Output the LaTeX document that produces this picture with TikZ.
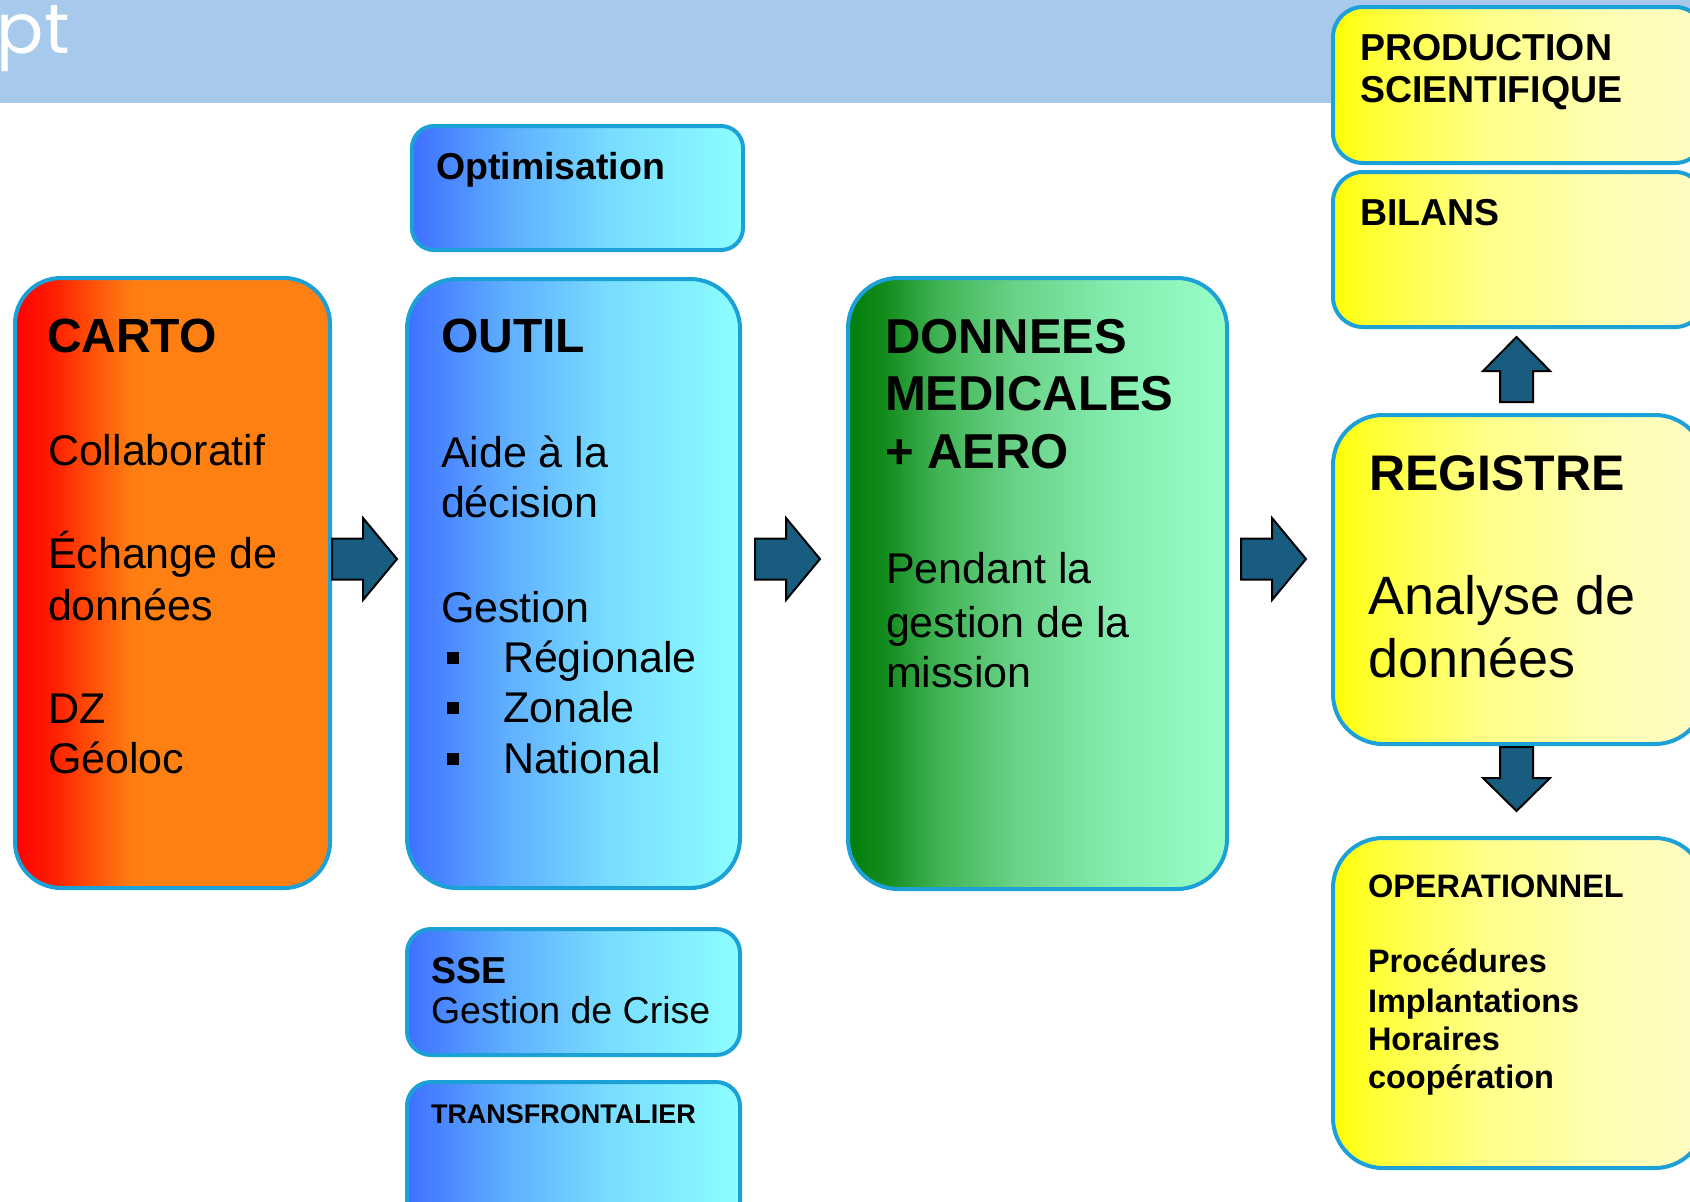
\documentclass[tikz,border=0pt]{standalone}
\usepackage{fontspec}
\setmainfont{Liberation Sans}
\newfontfamily\poppfont{Poppins}
\definecolor{bandblue}{RGB}{167,201,235}
\definecolor{edgeblue}{RGB}{27,160,215}
\definecolor{arrowblue}{RGB}{24,93,128}
% carto
\definecolor{cA}{RGB}{255,0,0}
\definecolor{cB}{RGB}{255,26,0}
\definecolor{cC}{RGB}{255,90,10}
\definecolor{cD}{RGB}{255,125,18}
\definecolor{cE}{RGB}{255,128,18}
% blue
\definecolor{bA}{RGB}{62,112,255}
\definecolor{bB}{RGB}{95,175,255}
\definecolor{bC}{RGB}{120,220,255}
\definecolor{bD}{RGB}{140,255,255}
% green
\definecolor{gA}{RGB}{0,125,10}
\definecolor{gB}{RGB}{20,140,30}
\definecolor{gC}{RGB}{65,180,85}
\definecolor{gF}{RGB}{105,210,135}
\definecolor{gD}{RGB}{132,236,175}
\definecolor{gE}{RGB}{152,255,200}
% yellow
\definecolor{yA}{RGB}{255,255,0}
\definecolor{yB}{RGB}{255,255,50}
\definecolor{yC}{RGB}{255,255,135}
\definecolor{yD}{RGB}{255,254,175}
\definecolor{yE}{RGB}{255,252,196}
\pgfdeclarehorizontalshading{cartoshade}{100bp}{color(0bp)=(cA); color(25bp)=(cA); color(30.5bp)=(cB); color(38.5bp)=(cC); color(43.5bp)=(cD); color(46bp)=(cE); color(100bp)=(cE)}
\pgfdeclarehorizontalshading{blueshade}{100bp}{color(0bp)=(bA); color(25bp)=(bA); color(40bp)=(bB); color(55bp)=(bC); color(75bp)=(bD); color(100bp)=(bD)}
\pgfdeclarehorizontalshading{greenshade}{100bp}{color(0bp)=(gA); color(25bp)=(gA); color(30bp)=(gB); color(37bp)=(gC); color(47bp)=(gF); color(60bp)=(gD); color(75bp)=(gE); color(100bp)=(gE)}
\pgfdeclarehorizontalshading{yellowshade}{100bp}{color(0bp)=(yA); color(25bp)=(yA); color(30bp)=(yB); color(45bp)=(yC); color(60bp)=(yD); color(75bp)=(yE); color(100bp)=(yE)}
\begin{document}
\begin{tikzpicture}[x=1pt,y=-1pt,
  box/.style={draw=edgeblue, line width=4pt, shade, anchor=north west, inner sep=0pt, outer sep=0pt},
  txt/.style={anchor=base west, inner sep=0pt, outer sep=0pt, text=black},
  tbig/.style={txt, font=\fontsize{48}{57}\selectfont\bfseries},
  tbody/.style={txt, font=\fontsize{43}{51}\selectfont},
  tmid/.style={txt, font=\fontsize{37.5}{44}\selectfont\bfseries},
  topstyle/.style={txt, font=\fontsize{32.5}{39}\selectfont\bfseries},
  tdon/.style={txt, font=\fontsize{49}{58}\selectfont\bfseries},
  blockarrow/.style={fill=arrowblue, draw=black, line width=2pt, line join=miter},
  bulletsq/.style={fill=black, inner sep=0pt, minimum size=12pt, draw=none}
]
\useasboundingbox (0,0) rectangle (1690,1202);
\clip (0,0) rectangle (1690,1202);
\fill[white] (0,0) rectangle (1690,1202);
% header band
\node[fill=bandblue, anchor=north west, inner sep=0pt, minimum width=1690pt, minimum height=103pt] (band) at (0,0) {};
\node[txt, text=white, font=\poppfont\fontsize{70}{80}\selectfont] (pt) at (-3,53) {pt};

% boxes
\node[box, shading=cartoshade, rounded corners=46pt, minimum width=315pt, minimum height=610pt] (carto) at (15,278) {};
\node[box, shading=blueshade, rounded corners=22pt, minimum width=331pt, minimum height=124pt] (optim) at (412,126) {};
\node[box, shading=blueshade, rounded corners=50pt, minimum width=333pt, minimum height=609pt] (outil) at (407,279) {};
\node[box, shading=blueshade, rounded corners=24pt, minimum width=333pt, minimum height=126pt] (sse) at (407,929) {};
\node[box, shading=blueshade, rounded corners=24pt, minimum width=333pt, minimum height=160pt] (trans) at (407,1082) {};
\node[box, shading=greenshade, rounded corners=50pt, minimum width=379pt, minimum height=611pt] (donnees) at (848,278) {};
\node[box, shading=yellowshade, rounded corners=30pt, minimum width=372pt, minimum height=156pt] (prod) at (1333,7) {};
\node[box, shading=yellowshade, rounded corners=30pt, minimum width=372pt, minimum height=155pt] (bilans) at (1333,172) {};
\node[box, shading=yellowshade, rounded corners=50pt, minimum width=372pt, minimum height=329pt] (registre) at (1333,415) {};
\node[box, shading=yellowshade, rounded corners=50pt, minimum width=372pt, minimum height=330pt] (oper) at (1333,838) {};

% right block arrows
\foreach \sx in {332,755,1241} {
  \begin{scope}[shift={(\sx,559)}]
    \draw[blockarrow] (0,-20.5) -- (31,-20.5) -- (31,-41) -- (65,0) -- (31,41) -- (31,20.5) -- (0,20.5) -- cycle;
  \end{scope}
}
% up arrow
\begin{scope}[shift={(1516.5,337)}]
  \draw[blockarrow] (0,0) -- (33.5,34) -- (16.5,34) -- (16.5,65) -- (-16.5,65) -- (-16.5,34) -- (-33.5,34) -- cycle;
\end{scope}
% down arrow
\begin{scope}[shift={(1516.5,811)}]
  \draw[blockarrow] (0,0) -- (33.5,-33) -- (16.5,-33) -- (16.5,-64) -- (-16.5,-64) -- (-16.5,-33) -- (-33.5,-33) -- cycle;
\end{scope}

% CARTO text
\node[tbig] (tcarto) at (47,352) {CARTO};
\node[tbody] (tc1) at (48,465) {Collaboratif};
\node[tbody] (tc2) at (48,568) {Échange de};
\node[tbody] (tc3) at (48,620) {données};
\node[tbody] (tc4) at (48,723) {DZ};
\node[tbody] (tc5) at (48,773) {Géoloc};

% Optimisation
\node[tmid] (topt) at (436,179) {Optimisation};

% OUTIL
\node[tbig] (toutil) at (441,352) {OUTIL};
\node[tbody] (to1) at (441,467) {Aide à la};
\node[tbody] (to2) at (441,517) {décision};
\node[tbody] (to3) at (441,622) {Gestion};
\node[bulletsq] (bu1) at (453,658) {};
\node[tbody] (to4) at (503,672) {Régionale};
\node[bulletsq] (bu2) at (453,708) {};
\node[tbody] (to5) at (503,722) {Zonale};
\node[bulletsq] (bu3) at (453,759) {};
\node[tbody] (to6) at (503,773) {National};

% SSE
\node[tmid] (tsse) at (431,983) {SSE};
\node[txt, font=\fontsize{37.5}{44}\selectfont] (tsse2) at (431,1023) {Gestion de Crise};
\node[txt, font=\fontsize{27}{32}\selectfont\bfseries] (ttrans) at (431,1123) {TRANSFRONTALIER};

% DONNEES
\node[tdon] (td1) at (885,353) {DONNEES};
\node[tdon] (td2) at (885,410) {MEDICALES};
\node[tdon] (td3) at (885,468) {+ AERO};
\node[tbody] (td4) at (886,583) {Pendant la};
\node[tbody] (td5) at (886,637) {gestion de la};
\node[tbody] (td6) at (886,687) {mission};

% right column
\node[tmid] (tp1) at (1360,60) {PRODUCTION};
\node[tmid] (tp2) at (1360,102) {SCIENTIFIQUE};
\node[tmid] (tb1) at (1360,225) {BILANS};
\node[txt, font=\fontsize{50}{60}\selectfont\bfseries] (tr1) at (1369,490) {REGISTRE};
\node[txt, font=\fontsize{54}{64}\selectfont] (tr2) at (1368,614) {Analyse de};
\node[txt, font=\fontsize{54}{64}\selectfont] (tr3) at (1368,677) {données};
\node[topstyle] (top1) at (1368,897) {OPERATIONNEL};
\node[topstyle] (top2) at (1368,972) {Procédures};
\node[topstyle] (top3) at (1368,1012) {Implantations};
\node[topstyle] (top4) at (1368,1050) {Horaires};
\node[topstyle] (top5) at (1368,1088) {coopération};
\end{tikzpicture}
\end{document}
